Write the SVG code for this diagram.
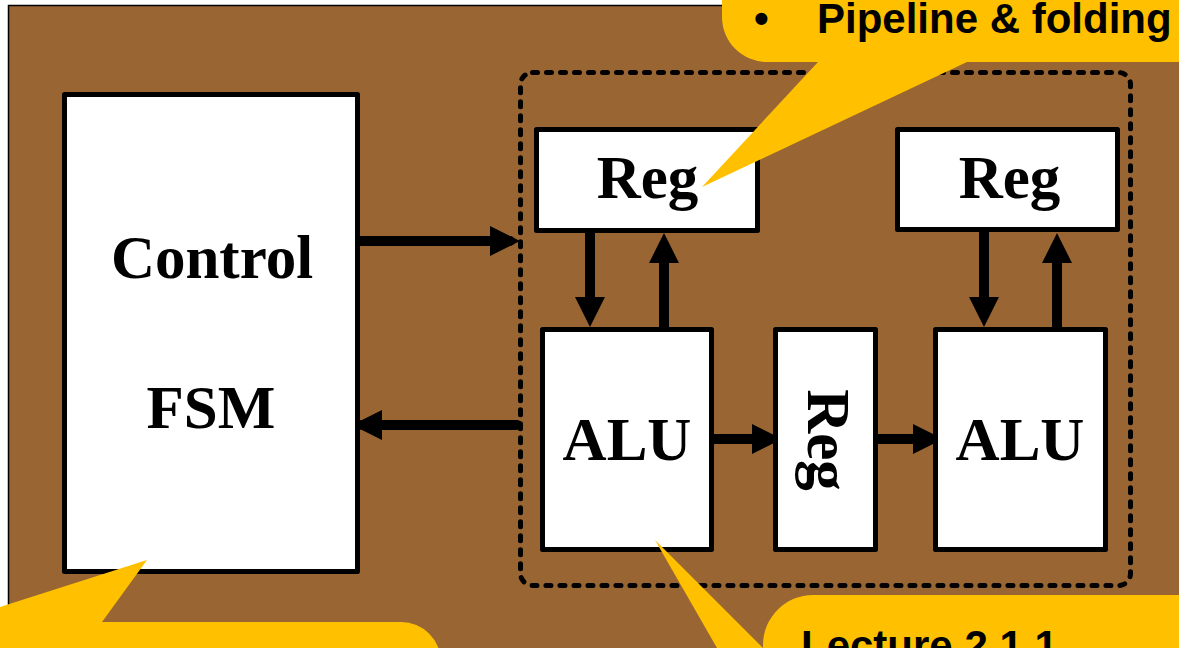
<svg xmlns="http://www.w3.org/2000/svg" width="1179" height="648" viewBox="0 0 1179 648">
<style>
.box{fill:#fff;stroke:#000;stroke-width:5;stroke-linejoin:round}
.lbl{font-family:"Liberation Serif","Times New Roman",serif;font-weight:bold;font-size:61px;fill:#000;text-anchor:middle}
.conn{stroke:#000;stroke-width:10;fill:none}
.call{fill:#FFC000}
.ctxt{font-family:"Liberation Sans",Arial,sans-serif;font-weight:bold;font-size:42px;fill:#000}
</style>
<defs>
<marker id="ah" viewBox="0 0 30 30" markerWidth="30" markerHeight="30" refX="20" refY="15" orient="auto" markerUnits="userSpaceOnUse">
<path d="M0,0 L30,15 L0,30 Z" fill="#000"/>
</marker>
</defs>
<rect x="0" y="0" width="1179" height="648" fill="#fff"/>
<rect id="background" x="8.5" y="5.5" width="1200" height="700" fill="#996633" stroke="#000" stroke-width="1.5"/>
<rect id="pipeline-boundary" x="520.5" y="72.5" width="610" height="513" rx="12" fill="none" stroke="#000" stroke-width="5" stroke-dasharray="5 9" stroke-linecap="round"/>
<g id="connectors">
<line class="conn" x1="356" y1="241" x2="510" y2="241" stroke-linecap="round" marker-end="url(#ah)"/>
<line class="conn" x1="517" y1="425" x2="362" y2="425" stroke-linecap="round" marker-end="url(#ah)"/>
<line class="conn" x1="590" y1="232" x2="590" y2="317" marker-end="url(#ah)"/>
<line class="conn" x1="664" y1="327" x2="664" y2="243" marker-end="url(#ah)"/>
<line class="conn" x1="984" y1="232" x2="984" y2="317" marker-end="url(#ah)"/>
<line class="conn" x1="1057" y1="327" x2="1057" y2="243" marker-end="url(#ah)"/>
<line class="conn" x1="712" y1="439" x2="772" y2="439" marker-end="url(#ah)"/>
<line class="conn" x1="874" y1="439" x2="933" y2="439" stroke-linecap="round" marker-end="url(#ah)"/>
</g>
<g id="control-fsm">
<rect class="box" x="64.5" y="94.5" width="293" height="477"/>
<text class="lbl" x="212" y="278">Control</text>
<text class="lbl" x="211" y="428">FSM</text>
</g>
<g id="reg1">
<rect class="box" x="536.5" y="129.5" width="221" height="101"/>
<text class="lbl" x="647.5" y="198">Reg</text>
</g>
<g id="reg2">
<rect class="box" x="897.5" y="129.5" width="220" height="100"/>
<text class="lbl" x="1009.5" y="198">Reg</text>
</g>
<g id="alu1">
<rect class="box" x="542.5" y="329.5" width="169" height="220"/>
<text class="lbl" x="627" y="460">ALU</text>
</g>
<g id="reg-mid">
<rect class="box" x="775.5" y="329.5" width="100" height="220"/>
<text class="lbl" transform="translate(808,440) rotate(90)" x="0" y="0">Reg</text>
</g>
<g id="alu2">
<rect class="box" x="935.5" y="329.5" width="170" height="220"/>
<text class="lbl" x="1020" y="460">ALU</text>
</g>
<g id="callout-top">
<path class="call" d="M722,-50 L722,17 A45,45 0 0 0 767,62 L818,62 L702,187 L967,62 L1190,62 L1190,-50 Z"/>
<text class="ctxt" x="754" y="33">•</text>
<text class="ctxt" x="817" y="33">Pipeline &amp; folding</text>
</g>
<g id="callout-bottom-left">
<path class="call" d="M-50,623 L147,560 L102,622 L401,622 A40,40 0 0 1 441,662 L441,700 L-50,700 Z"/>
</g>
<g id="callout-bottom-right">
<path class="call" d="M655,540 L740,688 L803,688 Z"/>
<path class="call" d="M763,700 L763,645 A50,50 0 0 1 813,595 L1190,595 L1190,700 Z"/>
<text class="ctxt" x="801" y="660">Lecture 2.1.1</text>
</g>
</svg>
